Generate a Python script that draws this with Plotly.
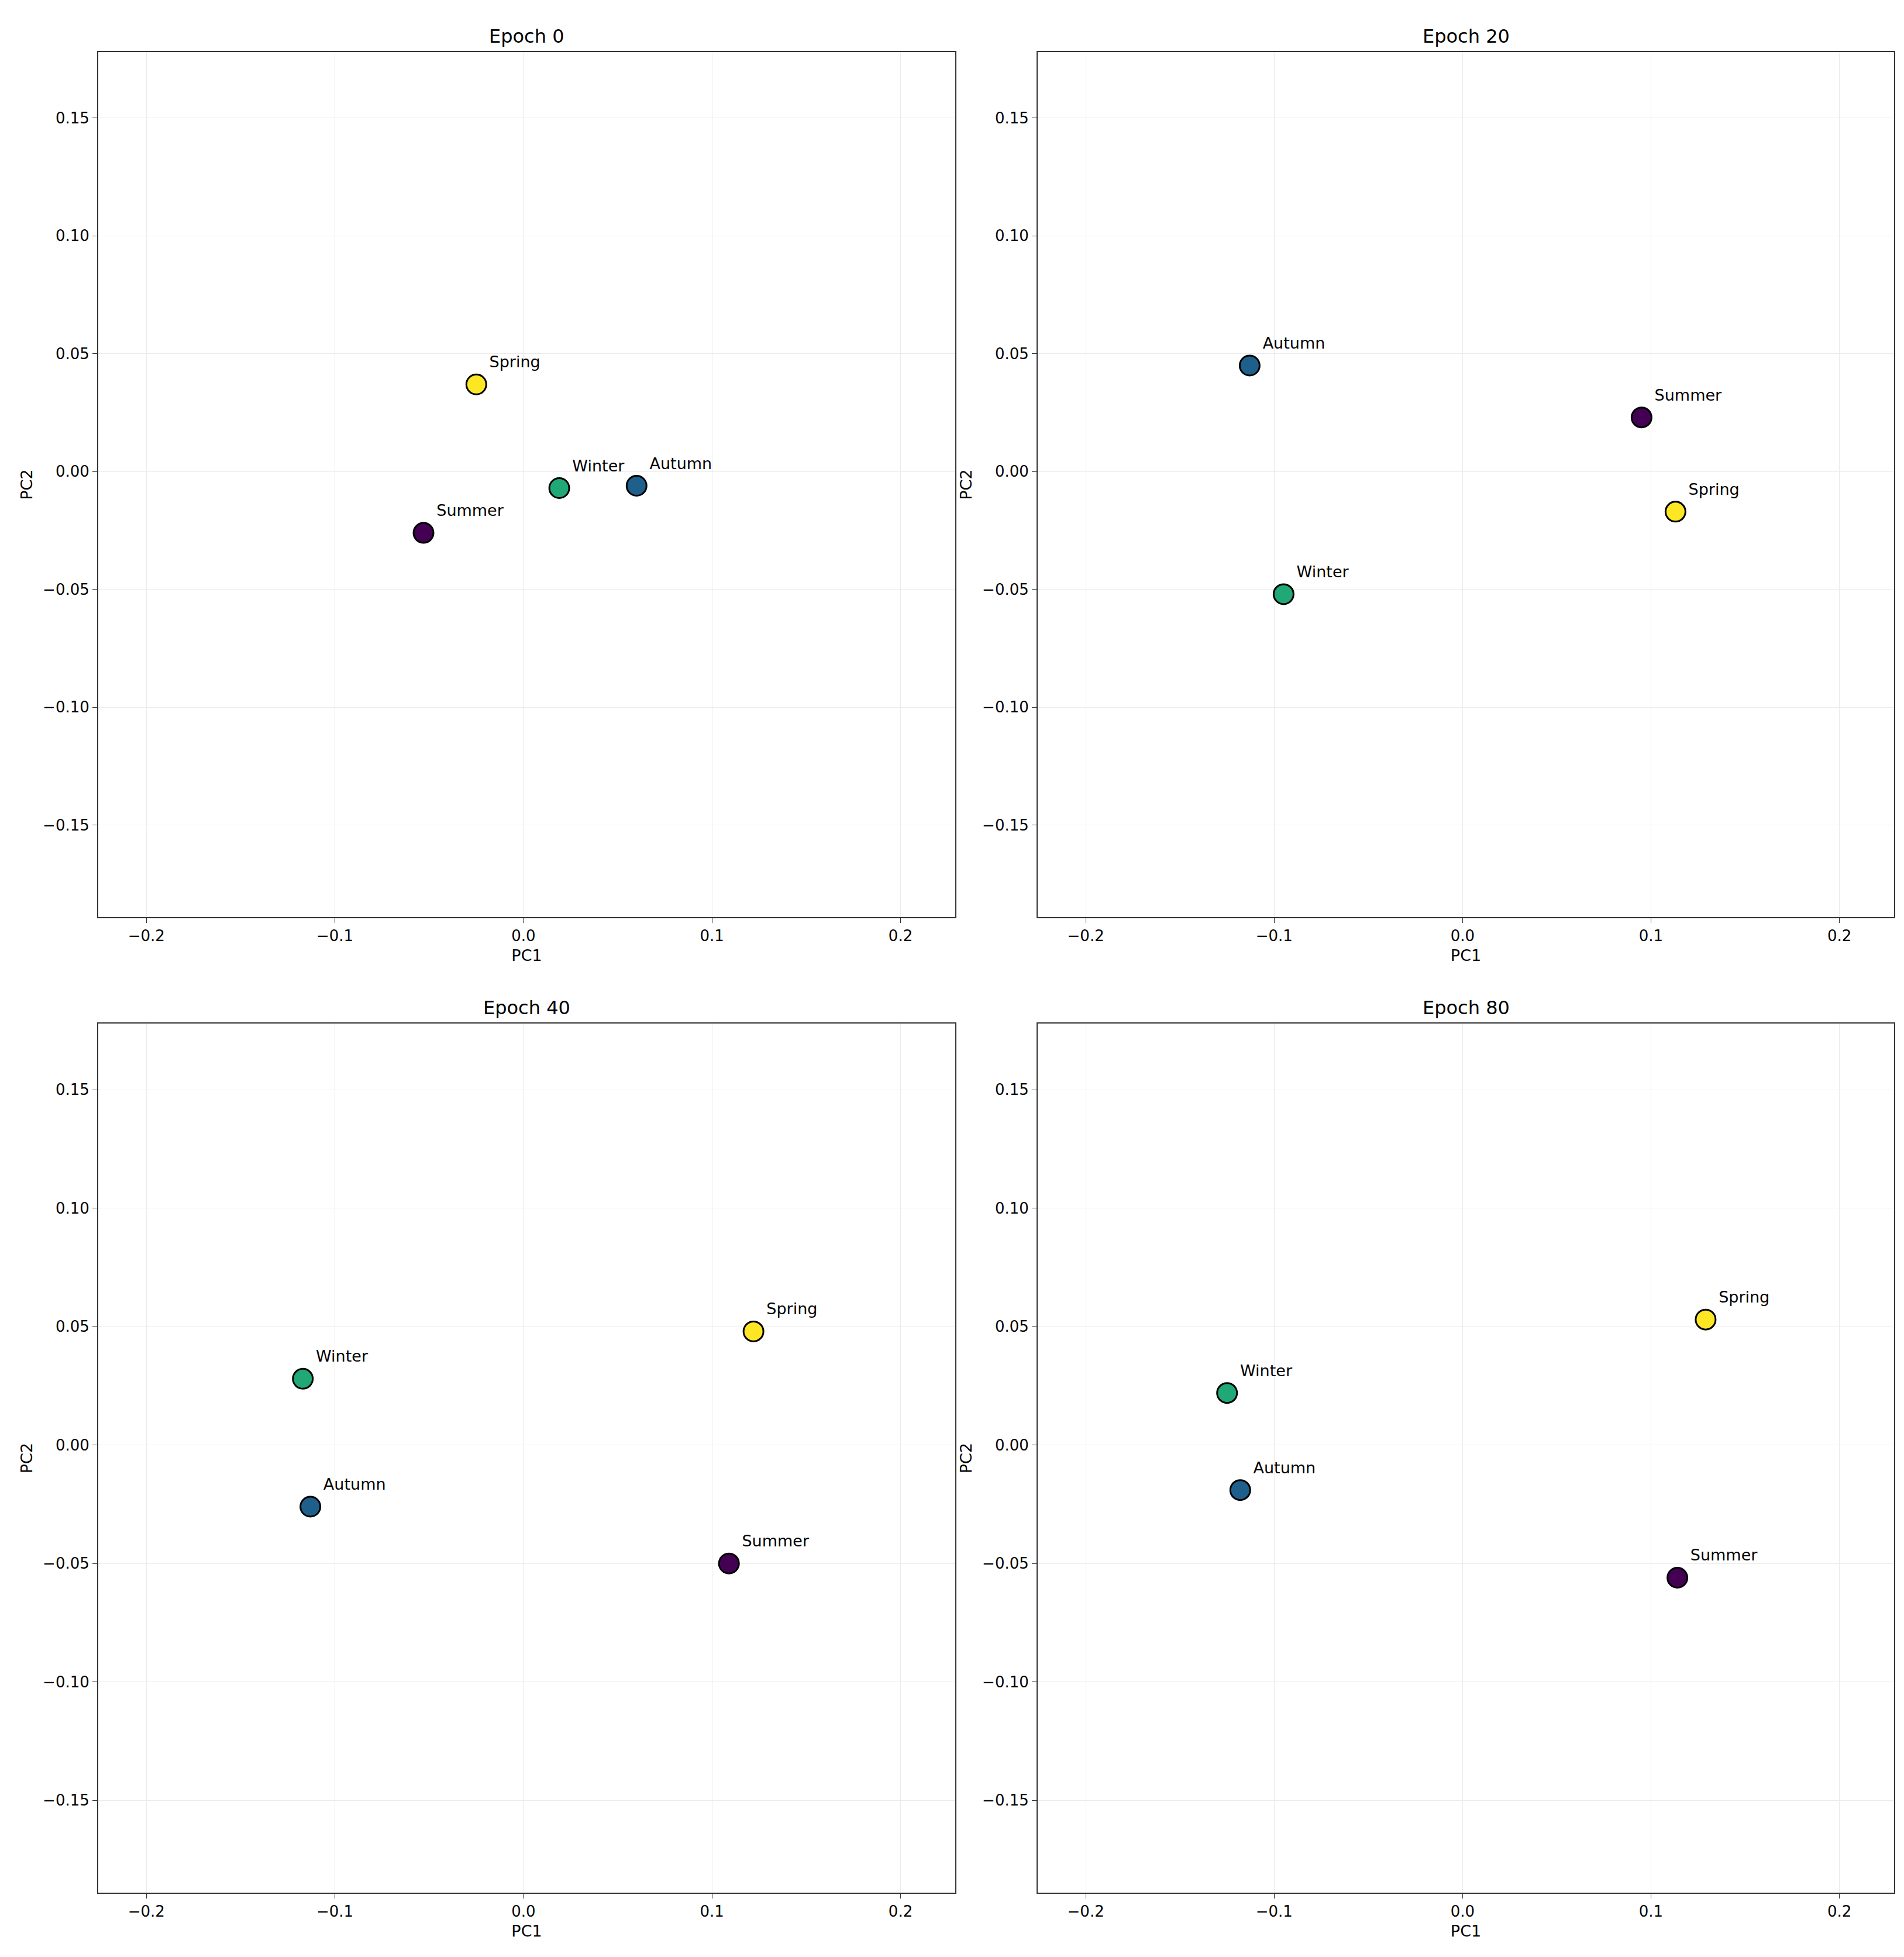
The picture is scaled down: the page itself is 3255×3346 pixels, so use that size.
import plotly.graph_objects as go
from plotly.subplots import make_subplots

seasons = ["Summer", "Autumn", "Winter", "Spring"]
colors = ["#440154", "#1f5f8b", "#20a877", "#fde725"]
epochs = ["Epoch 0", "Epoch 20", "Epoch 40", "Epoch 80"]
pc1 = [
    [-0.053, 0.060, 0.019, -0.025],
    [0.095, -0.113, -0.095, 0.113],
    [0.109, -0.113, -0.117, 0.122],
    [0.114, -0.118, -0.125, 0.129],
]
pc2 = [
    [-0.026, -0.006, -0.007, 0.037],
    [0.023, 0.045, -0.052, -0.017],
    [-0.050, -0.026, 0.028, 0.048],
    [-0.056, -0.019, 0.022, 0.053],
]

W, H = 3255, 3346
fig = make_subplots(rows=2, cols=2)
xd = [[160/W, 1625/W], [1766/W, 3230/W]]
yd = [[1 - 1560/H, 1 - 81/H], [1 - 3228/H, 1 - 1742/H]]
fnt = "DejaVu Sans"
for k in range(4):
    r, c = k // 2 + 1, k % 2 + 1
    fig.add_trace(go.Scatter(
        x=pc1[k], y=pc2[k], mode="markers+text", text=seasons,
        textposition="top right", textfont=dict(size=27, color="black", family=fnt),
        marker=dict(size=34, color=colors, line=dict(color="black", width=3)),
        showlegend=False, cliponaxis=False), row=r, col=c)
    ax = "" if k == 0 else str(k + 1)
    dx, dy = xd[c - 1], yd[r - 1]
    fig.layout["xaxis" + ax].update(
        domain=dx, range=[-0.2255, 0.229], tickvals=[-0.2, -0.1, 0, 0.1, 0.2],
        ticktext=["\u22120.2", "\u22120.1", "0.0", "0.1", "0.2"],
        showline=True, mirror=True, linecolor="#333", linewidth=2, ticks="outside",
        ticklen=8, tickcolor="#333", gridcolor="#ebebeb", zeroline=False,
        tickfont=dict(size=26, family=fnt, color="black"),
        title=dict(text="PC1", font=dict(size=27, family=fnt, color="black"), standoff=10))
    fig.layout["yaxis" + ax].update(
        domain=dy, range=[-0.189, 0.178], tickvals=[-0.15, -0.1, -0.05, 0, 0.05, 0.1, 0.15],
        ticktext=["\u22120.15", "\u22120.10", "\u22120.05", "0.00", "0.05", "0.10", "0.15"],
        showline=True, mirror=True, linecolor="#333", linewidth=2, ticks="outside",
        ticklen=8, tickcolor="#333", gridcolor="#ebebeb", zeroline=False,
        tickfont=dict(size=26, family=fnt, color="black"),
        title=dict(text="PC2", font=dict(size=27, family=fnt, color="black"), standoff=10))
    fig.add_annotation(x=(dx[0] + dx[1]) / 2, y=dy[1], xref="paper", yref="paper",
                       text=epochs[k], showarrow=False, xanchor="center", yanchor="bottom", yshift=6,
                       font=dict(size=32, family=fnt, color="black"))

fig.update_layout(width=W, height=H, margin=dict(l=0, r=0, t=0, b=0),
                  plot_bgcolor="white", paper_bgcolor="white")
fig.write_html("out.html")
